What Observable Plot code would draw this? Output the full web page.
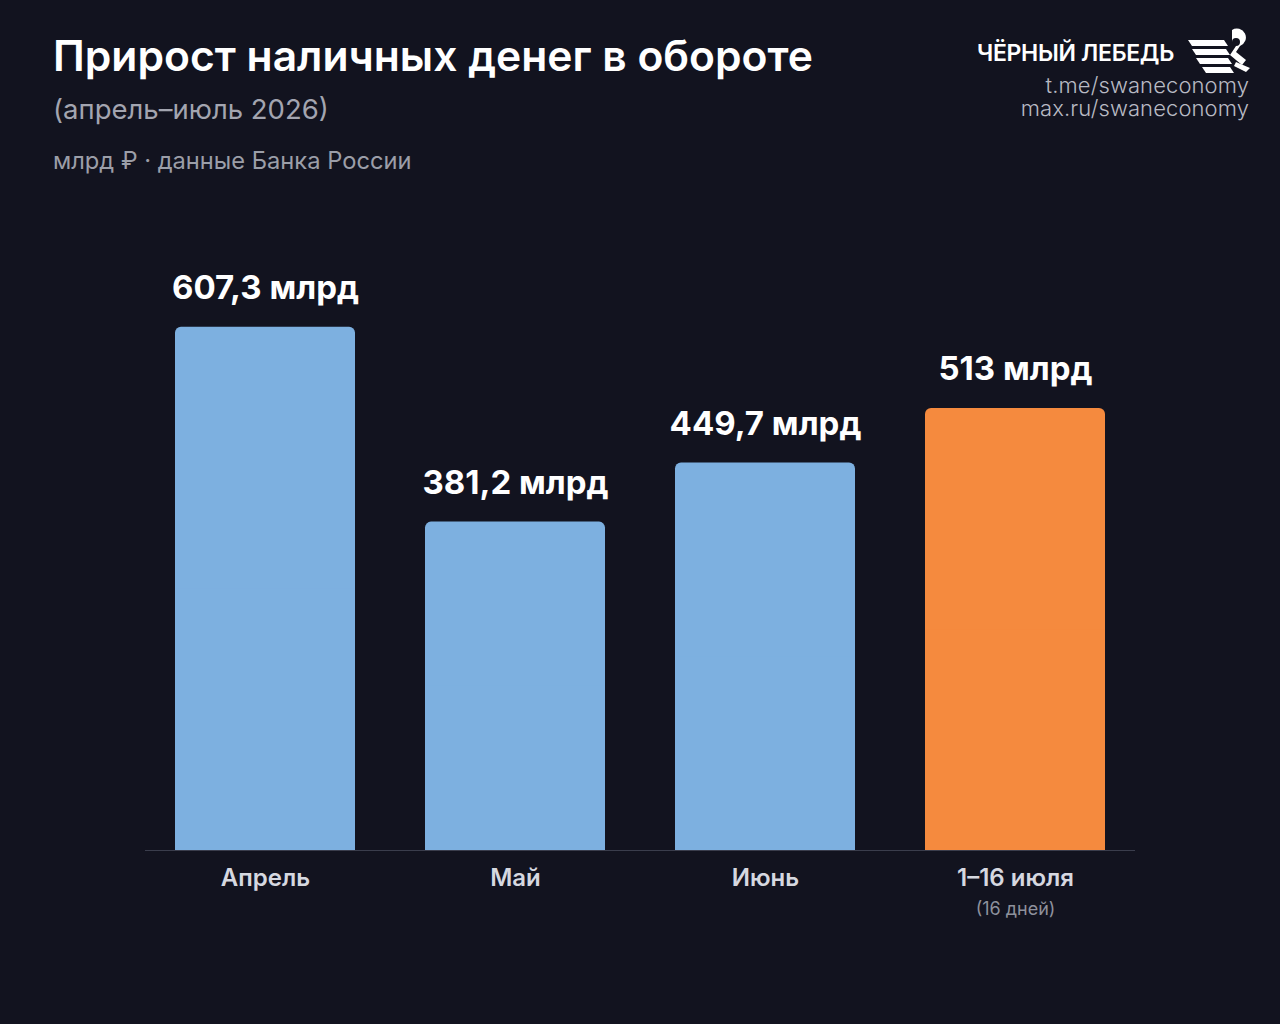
<!DOCTYPE html>
<html lang="ru">
<head>
<meta charset="utf-8">
<script src="https://cdn.jsdelivr.net/npm/d3@7"></script>
<script src="https://cdn.jsdelivr.net/npm/@observablehq/plot@0.6"></script>
<style>
  html, body { margin: 0; padding: 0; background: #12131f; }
  body { width: 1280px; height: 1024px; position: relative; overflow: hidden; font-family: Inter, "Noto Sans", sans-serif; }
  .title { position: absolute; left: 53px; top: 30px; font-size: 42.6px; font-weight: 600; color: #ffffff; }
  .sub { position: absolute; left: 53px; top: 92px; font-size: 27.5px; font-weight: 400; color: #a3a5b0; }
  .note { position: absolute; left: 53px; top: 146px; font-size: 23.7px; font-weight: 400; color: #9b9ea8; }
  .brand { position: absolute; right: 106px; top: 39px; font-size: 23px; font-weight: 600; color: #ffffff; letter-spacing: -0.3px; }
  .link { position: absolute; right: 31px; font-size: 22px; line-height: 22px; font-weight: 300; color: #b8bac3; text-align: right; letter-spacing: 0.1px; }
  .logo { position: absolute; left: 1188px; top: 26px; }
  #chart { position: absolute; left: 0; top: 200px; }
</style>
</head>
<body>
<div class="title">Прирост наличных денег в обороте</div>
<div class="sub">(апрель–июль 2026)</div>
<div class="note">млрд ₽ · данные Банка России</div>
<div class="brand">ЧЁРНЫЙ ЛЕБЕДЬ</div>
<svg class="logo" width="64" height="48" viewBox="0 0 64 48">
  <g fill="#ffffff">
    <polygon points="0,14 36,14 40,20 4,20"/>
    <polygon points="4,23 38,23 42,29 8,29"/>
    <polygon points="8,32 40,32 44,38 12,38"/>
    <polygon points="14,41 42,41 46,47 18,47"/>
    <path d="M44,4 a9,9 0 1 1 8,16 l-4,6 l10,8 l-4,5 l-12,-10 l6,-9 a4,4 0 1 0 -4,-4 z"/>
    <polygon points="48,36 62,42 58,46 46,40"/>
  </g>
</svg>
<div class="link" style="top:74px">t.me/swaneconomy</div>
<div class="link" style="top:97px">max.ru/swaneconomy</div>
<div id="chart"></div>
<script>
// Cash in circulation growth, billions of rubles
const periods = ["Апрель", "Май", "Июнь", "1–16 июля"];
const values = [607.3, 381.2, 449.7, 513];
const valueLabels = ["607,3 млрд", "381,2 млрд", "449,7 млрд", "513 млрд"];
const partial = [false, false, false, true];
const notes = ["", "", "", "(16 дней)"];

const rows = periods.map((p, i) => ({
  period: p, value: values[i], label: valueLabels[i], partial: partial[i], note: notes[i]
}));

const blue = "#7db0e0";
const orange = "#f58a3e";

const chart = Plot.plot({
  width: 1280,
  height: 824,
  marginLeft: 140,
  marginRight: 140,
  marginTop: 47,
  marginBottom: 174,
  style: { background: "transparent", fontFamily: "Inter, 'Noto Sans', sans-serif" },
  x: { domain: periods, paddingInner: 0.28, paddingOuter: 0.14, label: null },
  y: { domain: [0, 700], axis: null },
  marks: [
    // rounded bars
    Plot.barY(rows, { x: "period", y: "value", rx: 6, fill: d => d.partial ? orange : blue }),
    // square off the lower corners
    Plot.barY(rows, { x: "period", y1: 0, y2: d => d.value / 2, fill: d => d.partial ? orange : blue }),
    Plot.ruleY([0], { stroke: "#3a3d4c", strokeWidth: 1.2, insetLeft: 5, insetRight: 5 }),
    Plot.axisX({ tickSize: 0, tickPadding: 18, fontSize: 24, fontWeight: 600, fill: "#d6d8e0", label: null }),
    Plot.text(rows, { x: "period", y: "value", text: "label", dy: -39, fontSize: 33, fontWeight: 700, fill: "#ffffff" }),
    Plot.text(rows.filter(d => d.note), { x: "period", y: 0, text: "note", dy: 59, fontSize: 18, fill: "#8e919c" })
  ]
});
document.getElementById("chart").append(chart);
</script>
</body>
</html>
